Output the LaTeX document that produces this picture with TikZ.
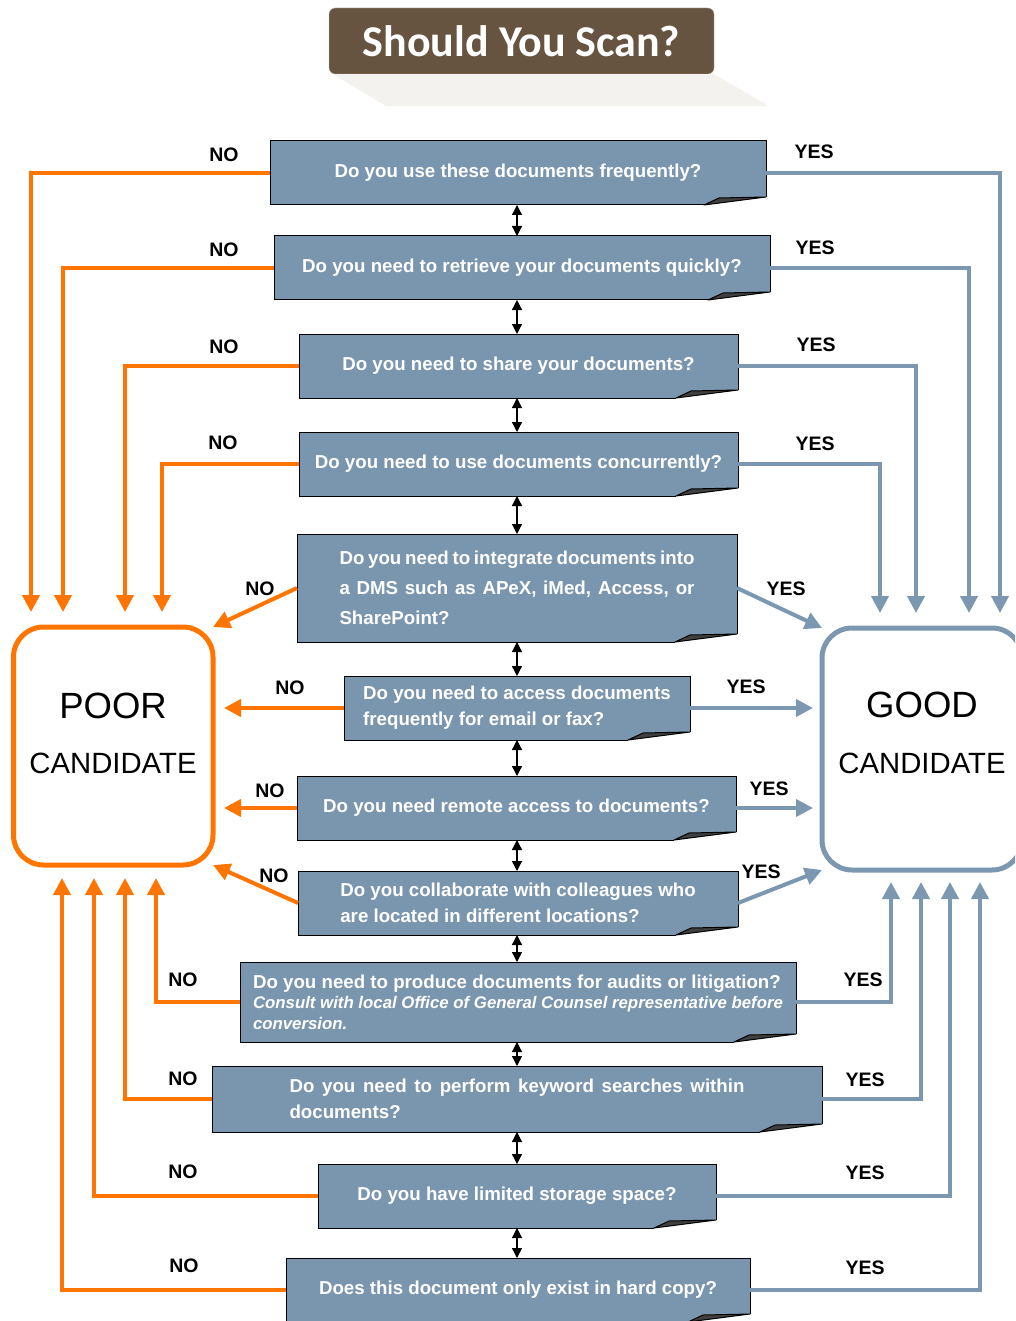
\documentclass[tikz,border=0pt]{standalone}
\usepackage{fontspec}
\setmainfont{Liberation Sans}
\newfontfamily\titlefont{Carlito}
\usepackage{xcolor}
\usepackage{tikz}
\usetikzlibrary{arrows,arrows.meta,shapes}

\begin{document}
\begin{tikzpicture}[x=1pt,y=-1pt]
    \definecolor{myorange}{RGB}{255,117,0}
    \definecolor{mysteel}{RGB}{124,151,176}
    \definecolor{myboxfill}{RGB}{122,150,174}
    \definecolor{mybrown}{RGB}{102,84,65}
    \definecolor{myshadow}{RGB}{243,242,238}

    \tikzstyle{format}=[rectangle,draw=black,line width=1pt,fill=myboxfill,text=white,outer sep=0pt,inner sep=0pt,font=\bfseries\fontsize{18.7}{26}\selectfont]  % 问题框
    \tikzstyle{cand}=[rectangle,rounded corners=30pt,line width=5pt,outer sep=0pt,minimum width=199.5pt,fill=white]  % 结论框
    \tikzstyle{candtext}=[anchor=base,inner sep=0pt]
    \tikzstyle{lab}=[font=\bfseries\fontsize{19.5}{20}\selectfont,inner sep=0pt]  % NO / YES
    \tikzstyle{nopath}=[myorange,line width=4pt,-{Triangle[width=17pt,length=17pt]}]
    \tikzstyle{yespath}=[mysteel,line width=4pt,-{Triangle[width=17pt,length=17pt]}]
    \tikzstyle{link}=[black,line width=1.3pt,{Triangle[width=10pt,length=10pt]}-{Triangle[width=10pt,length=10pt]}]

    \useasboundingbox (0,0) rectangle (1015,1321);
    \clip (0,0) rectangle (1015,1321);

    % 标题
    \node[rectangle,rounded corners=6pt,fill=mybrown,draw=mybrown!40!white,text=white,
          minimum width=385pt,minimum height=66pt,font=\titlefont\bfseries\fontsize{44}{44}\selectfont]
          (title) at (521.5,41) {Should You Scan?};
    \fill[myshadow] ([xshift=4pt]title.south west) -- (title.south east) -- ++(55,32) -- ++(-383,0) -- cycle;

    % 问题
    \node[format,minimum width=496pt,minimum height=64pt](q1) at (518,173) {Do you use these documents frequently?};
    \node[format,minimum width=496pt,minimum height=64pt](q2) at (522,268) {Do you need to retrieve your documents quickly?};
    \node[format,minimum width=439pt,minimum height=64pt](q3) at (518.5,366) {Do you need to share your documents?};
    \node[format,minimum width=439pt,minimum height=64pt](q4) at (518.5,464) {Do you need to use documents concurrently?};
    \node[format,minimum width=440pt,minimum height=108pt,align=left,font=\bfseries\fontsize{18.7}{30}\selectfont](q5) at (517,588)
        {\makebox[355pt][s]{Do you need to integrate documents into}\\\makebox[355pt][s]{a DMS such as APeX, iMed, Access, or}\\SharePoint?};
    \node[format,minimum width=346pt,minimum height=64pt,align=left](q6) at (517,708) {Do you need to access documents\\frequently for email or fax?};
    \node[format,minimum width=439pt,minimum height=64pt](q7) at (516.5,808) {Do you need remote access to documents?};
    \node[format,minimum width=440pt,minimum height=64pt,align=left](q8) at (518,903) {Do you collaborate with colleagues who\\are located in different locations?};
    \node[format,minimum width=556pt,minimum height=80pt,align=left,font=\bfseries\fontsize{18.7}{20.5}\selectfont](q9) at (518,1002)
        {Do you need to produce documents for audits or litigation?\\\itshape\fontsize{16.8}{20.5}\selectfont Consult with local Office of General Counsel representative before\\\itshape\fontsize{16.8}{20.5}\selectfont conversion.};
    \node[format,minimum width=610pt,minimum height=66pt,align=left](q10) at (517,1099)
        {\makebox[455pt][s]{Do you need to perform keyword searches within}\\documents?};
    \node[format,minimum width=398pt,minimum height=64pt](q11) at (517,1196) {Do you have limited storage space?};
    \node[format,minimum width=464pt,minimum height=64pt](q12) at (518,1290) {Does this document only exist in hard copy?};

    % 折角
    \foreach \i in {1,...,12}{
        \fill[white] (q\i.south east) ++(1.5,1.5) -- ++(0,-9.5) -- ++(-1.5,0) -- ++(-47,1) -- ++(-15,7) -- ++(0,1.5) -- cycle;
        \filldraw[fill=black!75,draw=black,line width=1pt,line join=round] (q\i.south east) ++(-62,0) -- ++(15,-7) -- ++(47,-1) -- cycle;
    }

    % 结论
    \node[cand,draw=myorange,minimum height=238pt](poor) at (113.25,746) {};
    \node[cand,draw=mysteel,minimum width=200pt,minimum height=242pt](good) at (922,749) {};
    \node[candtext,font=\fontsize{36.5}{37}\selectfont](poor1) at (113,718) {POOR};
    \node[candtext,font=\fontsize{29.3}{30}\selectfont](poor2) at (113,773) {CANDIDATE};
    \node[candtext,font=\fontsize{36.5}{37}\selectfont](good1) at (922,717) {GOOD};
    \node[candtext,font=\fontsize{29.3}{30}\selectfont](good2) at (922,773) {CANDIDATE};

    % 问题之间的双向箭头
    \foreach \i/\j in {1/2,2/3,3/4,4/5,5/6,6/7,7/8,8/9,9/10,10/11,11/12}
        \draw[link] (q\i.south -| q6.south) -- (q\j.north -| q6.south);

    % NO
    \draw[nopath,shorten >=15pt] (q1.west) -| ([xshift=17.5pt]poor.north west);
    \draw[nopath,shorten >=15pt] (q2.west) -| ([xshift=49.5pt]poor.north west);
    \draw[nopath,shorten >=15pt] (q3.west) -| ([xshift=111.5pt]poor.north west);
    \draw[nopath,shorten >=15pt] (q4.west) -| ([xshift=148.5pt]poor.north west);
    \draw[nopath] (q5.west) -- (poor.north east);
    \draw[nopath,shorten >=11pt] (q6.west) -- (poor.east |- q6.west);
    \draw[nopath,shorten >=11pt] (q7.west) -- (poor.east |- q7.west);
    \draw[nopath] (q8.west) -- (poor.south east);
    \draw[nopath,shorten >=13pt] (q9.west) -| ([xshift=142.5pt]poor.south west);
    \draw[nopath,shorten >=13pt] (q10.west) -| ([xshift=111.5pt]poor.south west);
    \draw[nopath,shorten >=13pt] (q11.west) -| ([xshift=80.5pt]poor.south west);
    \draw[nopath,shorten >=13pt] (q12.west) -| ([xshift=48.5pt]poor.south west);

    % YES
    \draw[yespath,shorten >=15pt] (q1.east) -| ([xshift=178pt]good.north west);
    \draw[yespath,shorten >=15pt] (q2.east) -| ([xshift=147pt]good.north west);
    \draw[yespath,shorten >=15pt] (q3.east) -| ([xshift=94pt]good.north west);
    \draw[yespath,shorten >=15pt] (q4.east) -| ([xshift=58pt]good.north west);
    \draw[yespath] (q5.east) -- (good.north west);
    \draw[yespath,shorten >=9pt] (q6.east) -- (good.west |- q6.east);
    \draw[yespath,shorten >=9pt] (q7.east) -- (good.west |- q7.east);
    \draw[yespath] (q8.east) -- (good.south west);
    \draw[yespath,shorten >=12pt] (q9.east) -| ([xshift=69pt]good.south west);
    \draw[yespath,shorten >=12pt] (q10.east) -| ([xshift=99pt]good.south west);
    \draw[yespath,shorten >=12pt] (q11.east) -| ([xshift=128pt]good.south west);
    \draw[yespath,shorten >=12pt] (q12.east) -| ([xshift=158pt]good.south west);

    % 标签
    \node[lab](n1) at (224,155) {NO};
    \node[lab](n2) at (224,250) {NO};
    \node[lab](n3) at (224,347) {NO};
    \node[lab](n4) at (223,443) {NO};
    \node[lab](n5) at (260,589) {NO};
    \node[lab](n6) at (290,688) {NO};
    \node[lab](n7) at (270,791) {NO};
    \node[lab](n8) at (274,876) {NO};
    \node[lab](n9) at (183,980) {NO};
    \node[lab](n10) at (183,1079) {NO};
    \node[lab](n11) at (183,1172) {NO};
    \node[lab](n12) at (184,1266) {NO};
    \node[lab](y1) at (814,152) {YES};
    \node[lab](y2) at (815,248) {YES};
    \node[lab](y3) at (816,345) {YES};
    \node[lab](y4) at (815,444) {YES};
    \node[lab](y5) at (786,589) {YES};
    \node[lab](y6) at (746,687) {YES};
    \node[lab](y7) at (769,789) {YES};
    \node[lab](y8) at (761,872) {YES};
    \node[lab](y9) at (863,980) {YES};
    \node[lab](y10) at (865,1080) {YES};
    \node[lab](y11) at (865,1173) {YES};
    \node[lab](y12) at (865,1268) {YES};
\end{tikzpicture}
\end{document}
